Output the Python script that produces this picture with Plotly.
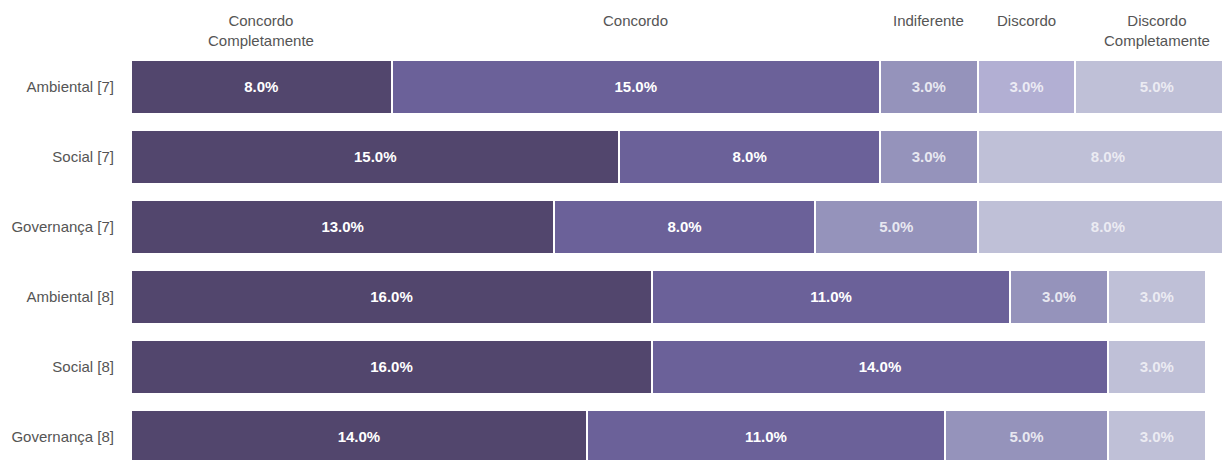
import plotly.graph_objects as go

# categories (top to bottom) and series values (%)
categories = ["Ambiental [7]", "Social [7]", "Governança [7]",
              "Ambiental [8]", "Social [8]", "Governança [8]"]
series_names = ["Concordo<br>Completamente", "Concordo", "Indiferente",
                "Discordo", "Discordo<br>Completamente"]
concordo_completamente = [8, 15, 13, 16, 16, 14]
concordo = [15, 8, 8, 11, 14, 11]
indiferente = [3, 3, 5, 3, 0, 5]
discordo = [3, 0, 0, 0, 0, 0]
discordo_completamente = [5, 8, 8, 3, 3, 3]

series_values = [concordo_completamente, concordo, indiferente,
                 discordo, discordo_completamente]
colors = ["#52466d", "#6b6199", "#9593bb", "#b2afd3", "#bfc0d7"]
text_colors = ["#ffffff", "#ffffff", "rgba(255,255,255,0.8)",
               "rgba(255,255,255,0.75)", "rgba(255,255,255,0.7)"]

fig = go.Figure()
for name, vals, col, tcol in zip(series_names, series_values, colors, text_colors):
    fig.add_trace(go.Bar(
        y=categories,
        x=vals,
        orientation="h",
        name=name.replace("<br>", " "),
        marker=dict(color=col, line=dict(color="white", width=2)),
        text=[f"<b>{v:.1f}%</b>" if v else "" for v in vals],
        textposition="inside",
        insidetextanchor="middle",
        textfont=dict(color=tcol, size=15, family="Arial"),
        hoverinfo="skip",
    ))

# column headers above the first row, centred on its segments
start = 0
for name, vals in zip(series_names, series_values):
    fig.add_annotation(
        x=start + vals[0] / 2, xref="x",
        y=1, yref="paper", yanchor="top", yshift=42,
        text=name, showarrow=False,
        font=dict(size=15, color="#555555", family="Arial"),
    )
    start += vals[0]

# page body has an 8px margin, so the figure is sized to fit the window;
# the widest bar runs slightly past the right edge, as in the original
fig.update_layout(
    barmode="stack",
    width=1222, height=452,
    margin=dict(l=123, r=0, t=44, b=0),
    plot_bgcolor="white", paper_bgcolor="white",
    showlegend=False,
    bargap=0.24,
    font=dict(family="Arial", size=15, color="#555555"),
    xaxis=dict(range=[0, 33.75], visible=False, fixedrange=True,
               automargin=False),
    yaxis=dict(
        categoryorder="array", categoryarray=categories,
        range=[5.33, -0.5], autorange=False, automargin=False,
        showgrid=False, zeroline=False, showline=False,
        ticks="", ticklabelstandoff=16,
        tickfont=dict(size=15, color="#555555"),
    ),
)

fig.write_html("out.html")
